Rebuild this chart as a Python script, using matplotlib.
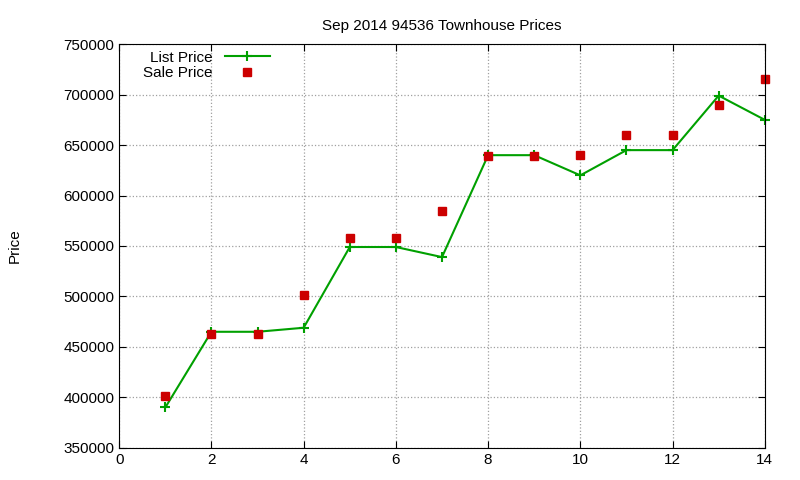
import matplotlib
matplotlib.use("Agg")
import matplotlib.pyplot as plt

months = [1, 2, 3, 4, 5, 6, 7, 8, 9, 10, 11, 12, 13, 14]
list_price = [390000, 465000, 465000, 469000, 549000, 549000, 539000,
              640000, 640000, 620000, 645000, 645000, 699000, 675000]
sale_price = [401000, 463000, 463000, 501000, 558000, 558000, 585000,
              639000, 639000, 640000, 660000, 660000, 690000, 715000]

plt.rcParams['font.family'] = ['Liberation Sans', 'DejaVu Sans']
fig = plt.figure(figsize=(8, 4.8), dpi=100)
ax = fig.add_axes([0.149, 0.067, 0.807, 0.841])

ax.plot(months, list_price, color='#00a000', marker='+', markersize=7,
        markeredgewidth=1.5, linewidth=1.5, label='List Price', clip_on=False)
ax.plot(months, sale_price, linestyle='none', marker='s', markersize=6,
        color='#cc0000', label='Sale Price', clip_on=False)

ax.set_xlim(0, 14)
ax.set_ylim(350000, 750000)
ax.set_xticks(range(0, 15, 2))
ax.set_yticks(range(350000, 750001, 50000))
ax.tick_params(direction='in', top=True, right=True, labelsize=11, length=5)
ax.grid(True, color='#a0a0a0', linestyle=':', linewidth=0.9)
ax.set_title('Sep 2014 94536 Townhouse Prices', fontsize=11, pad=10)
ax.set_ylabel('Price', fontsize=11, labelpad=30)

ax.legend(loc='upper left', frameon=False, markerfirst=False, fontsize=11,
          handlelength=3, borderaxespad=0.3, labelspacing=0.1,
          bbox_to_anchor=(0.02, 1.01))

fig.savefig('out.png', dpi=100)
